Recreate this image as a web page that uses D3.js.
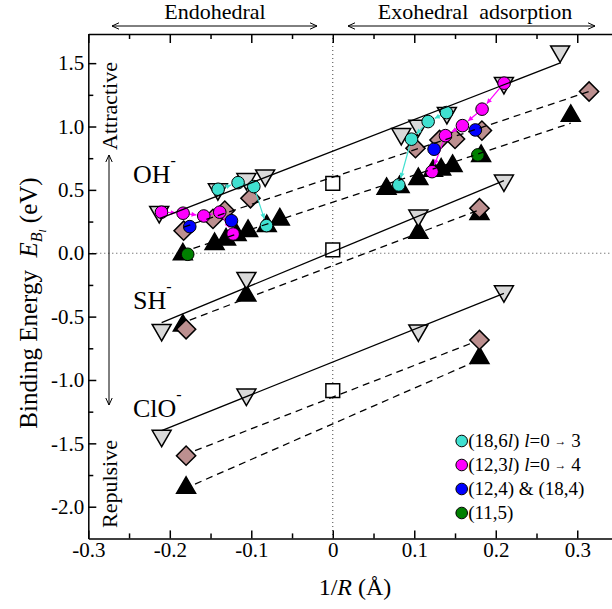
<!DOCTYPE html>
<html>
<head>
<meta charset="utf-8">
<script src="https://cdn.jsdelivr.net/npm/d3@7"></script>
<style>
body { margin: 0; background: #fff; }
text { font-family: "Liberation Serif", "Times New Roman", serif; fill: #000; }
</style>
</head>
<body>
<svg width="612" height="609"></svg>
<script>
// tick values
var xTicks = [-0.3, -0.2, -0.1, 0, 0.1, 0.2, 0.3];
var xMinor = [-0.25, -0.15, -0.05, 0.05, 0.15, 0.25];
var yTicks = [1.5, 1.0, 0.5, 0.0, -0.5, -1.0, -1.5, -2.0];
var yMinor = [1.25, 0.75, 0.25, -0.25, -0.75, -1.25, -1.75];

// [1/R, E]
// gray down triangles
var ohGray = [[-0.213, 0.326], [-0.141, 0.505], [-0.106, 0.586], [-0.083, 0.614], [0.084, 0.941], [0.105, 1.006], [0.140, 1.107], [0.210, 1.344], [0.279, 1.593]];
var shGray = [[-0.210, -0.605], [-0.106, -0.195], [0.105, 0.298], [0.210, 0.574]];
var cloGray = [[-0.210, -1.44], [-0.106, -1.115], [0.105, -0.609], [0.210, -0.30]];
// brown diamonds
var ohBrown = [[-0.183, 0.178], [-0.147, 0.271], [-0.1325, 0.336], [-0.101, 0.434], [0.1015, 0.829], [0.131, 0.894], [0.150, 0.902], [0.183, 0.968], [0.3145, 1.276]];
var shBrown = [[-0.180, -0.600], [0.180, 0.355]];
var cloBrown = [[-0.180, -1.597], [0.180, -0.684]];
// black up triangles
var ohBlack = [[-0.184, -0.009], [-0.145, 0.073], [-0.131, 0.109], [-0.118, 0.144], [-0.104, 0.176], [-0.081, 0.215], [-0.065, 0.267],
    [0.066, 0.508], [0.082, 0.523], [0.105, 0.586], [0.123, 0.650], [0.133, 0.661], [0.147, 0.689], [0.182, 0.768], [0.292, 1.084]];
var shBlack = [[-0.184, -0.571], [-0.106, -0.334], [0.105, 0.162], [0.180, 0.310]];
var cloBlack = [[-0.180, -1.851], [0.180, -0.826]];
// open squares at 1/R = 0
var squares = [[0, 0.552], [0, 0.026], [0, -1.084]];

// fitted lines (end points)
var solidFits = [
    [[-0.212, 0.276], [0.280, 1.504]],
    [[-0.210, -0.548], [0.210, 0.573]],
    [[-0.210, -1.400], [0.210, -0.316]]
];
var dashFits = [
    [[-0.183, 0.207], [0.3145, 1.276]],
    [[-0.171, 0.038], [0.292, 1.026]],
    [[-0.1755, -0.527], [0.180, 0.342]],
    [[-0.169, -1.558], [0.170, -0.710]],
    [[-0.169, -1.821], [0.170, -0.868]]
];

// coloured circles, in the order of the arrows
var cyanL = [[-0.1407, 0.505], [-0.1162, 0.557], [-0.0969, 0.526], [-0.0813, 0.218]];
var cyanR = [[0.1395, 1.110], [0.117, 1.039], [0.0966, 0.900], [0.081, 0.539]];
var magL = [[-0.2102, 0.324], [-0.1837, 0.316], [-0.1583, 0.294], [-0.1387, 0.324], [-0.1223, 0.152]];
var magR = [[0.2102, 1.342], [0.1832, 1.137], [0.1591, 1.007], [0.1383, 0.928], [0.1218, 0.644]];
var blue = [[-0.1755, 0.210], [-0.1243, 0.257], [0.1243, 0.821], [0.175, 0.973]];
var green = [[-0.178, -0.008], [0.178, 0.776]];

var legendLabels = ["(18,6l) l=0 → 3", "(12,3l) l=0 → 4", "(12,4) & (18,4)", "(11,5)"];
var legendColors = ["#40e0d0", "#ff00ff", "#0000ff", "#008000"];

const svg = d3.select('svg');
const x = d3.scaleLinear().domain([-0.3, 0.35]).range([88.3, 618]);
const y = d3.scaleLinear().domain([-2.25, 1.73]).range([538.4, 34]);
const fmt = d => d === 0 ? "0" : d3.format(".1f")(d).replace("−", "-");
const fmtY = d => d3.format(".1f")(d).replace("−", "-");

// dotted zero lines
svg.append("line").attr("x1", x(0)).attr("x2", x(0)).attr("y1", y.range()[1]).attr("y2", y.range()[0])
    .attr("stroke", "#444").attr("stroke-width", 1).attr("stroke-dasharray", "1,3");
svg.append("line").attr("x1", x.range()[0]).attr("x2", 612).attr("y1", y(0)).attr("y2", y(0))
    .attr("stroke", "#444").attr("stroke-width", 1).attr("stroke-dasharray", "1,3");

// axes
function styleAxis(g) {
    g.attr("font-family", null).attr("font-size", 21);
    g.selectAll("path, line").attr("stroke", "#000").attr("stroke-width", 1.5);
}
svg.append("g").attr("transform", "translate(0," + y.range()[0] + ")")
    .call(d3.axisBottom(x).tickValues(xTicks).tickSize(-8).tickSizeOuter(0).tickPadding(4).tickFormat(fmt))
    .call(styleAxis);
svg.append("g").attr("transform", "translate(0," + y.range()[0] + ")")
    .call(d3.axisBottom(x).tickValues(xMinor).tickSize(-5).tickFormat(""))
    .call(styleAxis).select(".domain").remove();
svg.append("g").attr("transform", "translate(0," + y.range()[1] + ")")
    .call(d3.axisTop(x).tickValues(xTicks).tickSize(-9).tickSizeOuter(0).tickFormat(""))
    .call(styleAxis);
svg.append("g").attr("transform", "translate(0," + y.range()[1] + ")")
    .call(d3.axisTop(x).tickValues(xMinor).tickSize(-5).tickFormat(""))
    .call(styleAxis).select(".domain").remove();
svg.append("g").attr("transform", "translate(" + x.range()[0] + ",0)")
    .call(d3.axisLeft(y).tickValues(yTicks).tickSize(-8).tickSizeOuter(0).tickPadding(4).tickFormat(fmtY))
    .call(styleAxis);
svg.append("g").attr("transform", "translate(" + x.range()[0] + ",0)")
    .call(d3.axisLeft(y).tickValues(yMinor).tickSize(-5).tickFormat(""))
    .call(styleAxis).select(".domain").remove();

// arrow heads
const defs = svg.append("defs");
[["cyanHead", "#40e0d0"], ["magHead", "#ff00ff"]].forEach(function (m) {
    defs.append("marker").attr("id", m[0]).attr("viewBox", "0 0 10 10")
        .attr("refX", 10).attr("refY", 5).attr("markerWidth", 6).attr("markerHeight", 5)
        .attr("markerUnits", "userSpaceOnUse").attr("orient", "auto")
        .append("path").attr("d", "M0,0L10,5L0,10Z").attr("fill", m[1]);
});

function openArrow(x1, y1, x2, y2) {
    svg.append("line").attr("x1", x1).attr("y1", y1).attr("x2", x2).attr("y2", y2)
        .attr("stroke", "#000").attr("stroke-width", 1);
    [[x1, y1, x2, y2], [x2, y2, x1, y1]].forEach(function (p) {
        var a = Math.atan2(p[1] - p[3], p[0] - p[2]);
        var h = 7, w = 3.2;
        var bx = p[0] - h * Math.cos(a), by = p[1] - h * Math.sin(a);
        svg.append("path")
            .attr("d", "M" + (bx - w * Math.sin(a)) + "," + (by + w * Math.cos(a)) + "L" + p[0] + "," + p[1] +
                "L" + (bx + w * Math.sin(a)) + "," + (by - w * Math.cos(a)))
            .attr("fill", "none").attr("stroke", "#000").attr("stroke-width", 1);
    });
}
openArrow(112, 26, 317, 26);
openArrow(348, 26, 595, 26);
openArrow(109, 155, 109, 405);

// markers
const tri = d3.symbol().type(d3.symbolTriangle).size(156);
const dia = d3.symbol().type(d3.symbolSquare).size(185);
const sq = d3.symbol().type(d3.symbolSquare).size(190);

function drawSym(data, path, fill, rot) {
    svg.append("g").selectAll("path").data(data).join("path")
        .attr("d", path)
        .attr("transform", d => "translate(" + x(d[0]) + "," + y(d[1]) + ") rotate(" + rot + ")")
        .attr("fill", fill).attr("stroke", "#000").attr("stroke-width", 1.5).attr("stroke-linejoin", "miter");
}
drawSym(ohBlack.concat(shBlack, cloBlack), tri(), "#000", 0);
drawSym(ohGray.concat(shGray, cloGray), tri(), "#d9d9d9", 180);
drawSym(ohBrown.concat(shBrown, cloBrown), dia(), "#bc8f8f", 45);

// coloured sequences with arrows
const r = 6.3;
function drawSeq(data, color, head) {
    var segs = d3.pairs(data);
    svg.append("g").selectAll("line").data(segs).join("line")
        .each(function (s) {
            var x1 = x(s[0][0]), y1 = y(s[0][1]), x2 = x(s[1][0]), y2 = y(s[1][1]);
            var L = Math.hypot(x2 - x1, y2 - y1);
            var ux = (x2 - x1) / L, uy = (y2 - y1) / L;
            d3.select(this).attr("x1", x1 + ux * r).attr("y1", y1 + uy * r)
                .attr("x2", x2 - ux * (r + 1)).attr("y2", y2 - uy * (r + 1));
        })
        .attr("stroke", color).attr("stroke-width", 1.2).attr("marker-end", "url(#" + head + ")");
}
drawSeq(cyanL, "#40e0d0", "cyanHead");
drawSeq(cyanR, "#40e0d0", "cyanHead");
drawSeq(magL, "#ff00ff", "magHead");
drawSeq(magR, "#ff00ff", "magHead");

function drawCircles(data, color) {
    svg.append("g").selectAll("circle").data(data).join("circle")
        .attr("cx", d => x(d[0])).attr("cy", d => y(d[1])).attr("r", r)
        .attr("fill", color).attr("stroke", "#000").attr("stroke-width", 1);
}
drawCircles(cyanL.concat(cyanR), "#40e0d0");
drawCircles(magL.concat(magR), "#ff00ff");
drawCircles(blue, "#0000ff");
drawCircles(green, "#008000");

drawSym(squares, sq(), "#fff", 0);

// fitted lines on top
const line = d3.line().x(d => x(d[0])).y(d => y(d[1]));
svg.append("g").selectAll("path").data(solidFits).join("path")
    .attr("d", line).attr("fill", "none").attr("stroke", "#000").attr("stroke-width", 1.3);
svg.append("g").selectAll("path").data(dashFits).join("path")
    .attr("d", line).attr("fill", "none").attr("stroke", "#000").attr("stroke-width", 1.3)
    .attr("stroke-dasharray", "7,5");

// ion labels
[["OH", 183], ["SH", 309], ["ClO", 417]].forEach(function (l) {
    var t = svg.append("text").attr("x", 133).attr("y", l[1]).attr("font-size", 26);
    t.append("tspan").text(l[0]);
    t.append("tspan").attr("dy", -17).attr("font-size", 16).text("-");
});

// top labels
svg.append("text").attr("x", 215).attr("y", 19).attr("text-anchor", "middle").attr("font-size", 22).text("Endohedral");
svg.append("text").attr("x", 475).attr("y", 19).attr("text-anchor", "middle").attr("font-size", 22)
    .attr("xml:space", "preserve").style("white-space", "pre").text("Exohedral  adsorption");

// attractive / repulsive
svg.append("text").attr("transform", "translate(117,106) rotate(-90)").attr("text-anchor", "middle")
    .attr("font-size", 22).text("Attractive");
svg.append("text").attr("transform", "translate(117,484) rotate(-90)").attr("text-anchor", "middle")
    .attr("font-size", 22).text("Repulsive");

// axis titles
var xt = svg.append("text").attr("x", 355).attr("y", 595).attr("text-anchor", "middle").attr("font-size", 24);
xt.append("tspan").text("1/");
xt.append("tspan").attr("font-style", "italic").text("R");
xt.append("tspan").text(" (Å)");

var yt = svg.append("text").attr("transform", "translate(37,303) rotate(-90)").attr("text-anchor", "middle")
    .attr("font-size", 25).style("white-space", "pre");
yt.append("tspan").text("Binding Energy  ");
yt.append("tspan").attr("font-style", "italic").text("E");
yt.append("tspan").attr("font-style", "italic").attr("font-size", 16).attr("dy", 5).text("B");
yt.append("tspan").attr("font-style", "italic").attr("font-size", 11).attr("dy", 4).text("l");
yt.append("tspan").attr("dy", -9).text(" (eV)");

// legend
const lg = svg.append("g").selectAll("g").data(legendLabels).join("g")
    .attr("transform", (d, i) => "translate(461.7," + (441 + i * 24) + ")");
lg.append("circle").attr("r", 5.8).attr("fill", (d, i) => legendColors[i]).attr("stroke", "#000").attr("stroke-width", 1);
lg.append("text").attr("x", 6.5).attr("y", 6).attr("font-size", 19).style("white-space", "pre")
    .each(function (d) {
        var t = d3.select(this);
        var m = d.match(/^\((\d+),(\d+)l\) l=0 → (\d)$/);
        if (m) {
            t.append("tspan").text("(" + m[1] + "," + m[2]);
            t.append("tspan").attr("font-style", "italic").text("l");
            t.append("tspan").text(") ");
            t.append("tspan").attr("font-style", "italic").text("l");
            t.append("tspan").text("=0 ");
            t.append("tspan").attr("font-size", 12).attr("dy", -2).text("→");
            t.append("tspan").attr("dy", 2).text(" " + m[3]);
        } else {
            t.text(d);
        }
    });
</script>
</body>
</html>
